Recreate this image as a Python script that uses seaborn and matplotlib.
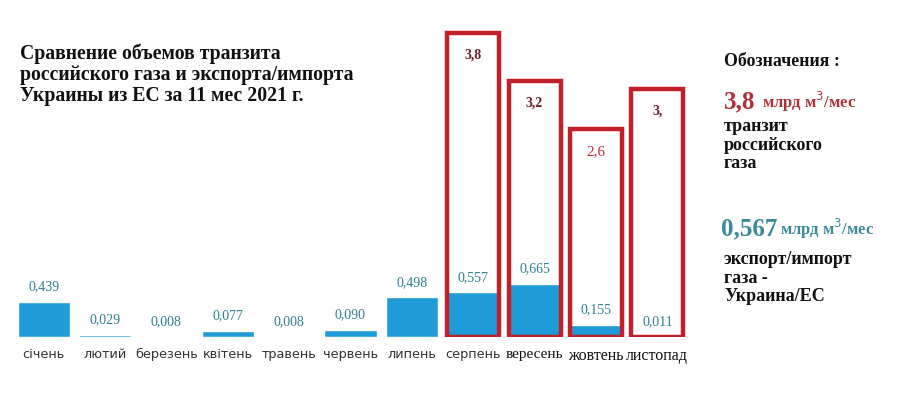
import matplotlib
matplotlib.use("Agg")
import matplotlib.pyplot as plt
import seaborn as sns
import numpy as np
import pandas as pd

months = ["січень", "лютий", "березень", "квітень", "травень", "червень",
          "липень", "серпень", "вересень", "жовтень", "листопад"]
export_import = [0.439, 0.029, 0.008, 0.077, 0.008, 0.090, 0.498, 0.557, 0.665, 0.155, 0.011]
export_labels = ["0,439", "0,029", "0,008", "0,077", "0,008", "0,090", "0,498",
                 "0,557", "0,665", "0,155", "0,011"]
transit = [np.nan] * 7 + [3.8, 3.2, 2.6, 3.1]
transit_labels = [""] * 7 + ["3,8", "3,2", "2,6", "3,"]

sns.set_theme(style="white")
plt.rcParams["font.family"] = ["DejaVu Sans"]

BLUE = "#1f9bd7"
TEAL = "#2f7f8f"
RED = "#c1202b"
SERIF = "Liberation Serif"

fig = plt.figure(figsize=(9.03, 4.0), dpi=100)
ax = fig.add_axes([13 / 903, 63 / 400, 675 / 903, 330 / 400])

df = pd.DataFrame({"month": months, "export": export_import, "transit": transit})
sns.barplot(data=df, x="month", y="export", color=BLUE, width=0.85,
            saturation=1, ax=ax, zorder=2)
sns.barplot(data=df, x="month", y="transit", fill=False, width=0.85,
            edgecolor=RED, linewidth=3.2, ax=ax, zorder=3)

ax.set_ylim(0, 330 / 80)
ax.set_xlim(-0.5, len(months) - 0.5)
ax.set_xlabel("")
ax.set_ylabel("")
ax.set_yticks([])
for s in ax.spines.values():
    s.set_visible(False)
ax.tick_params(axis="x", length=0, pad=8)
ax.set_xticks(range(len(months)))
ax.set_xticklabels(months, fontsize=9.3, color="#333333")
for i, t in enumerate(ax.get_xticklabels()):
    if i >= 8:
        t.set_fontfamily(SERIF)
        t.set_fontsize(11.5 if i > 8 else 11)
        t.set_color("#111111")

# export/import labels
for i, (v, lab) in enumerate(zip(export_import, export_labels)):
    ax.annotate(lab, (i, v), xytext=(0, 6), textcoords="offset points",
                ha="center", va="bottom", fontsize=10, color=TEAL,
                family=SERIF, zorder=5)

# transit labels
tcolors = ["#6a1f2a", "#6a1f2a", "#c03036", "#6a1f2a"]
k = 0
for i, (v, lab) in enumerate(zip(transit, transit_labels)):
    if lab:
        ax.annotate(lab, (i, v), xytext=(0, -16), textcoords="offset points",
                    ha="center", va="center", fontsize=10 if i != 9 else 11,
                    color=tcolors[k], family=SERIF,
                    fontweight="bold" if i != 9 else "normal", zorder=5)
        k += 1

# title
fig.text(20 / 903, 1 - 43 / 400,
         "Сравнение объемов транзита\nроссийского газа и экспорта/импорта\nУкраины из ЕС за 11 мес 2021 г.",
         ha="left", va="top", fontsize=14.2, fontweight="bold", family=SERIF,
         color="#111111", linespacing=1.08)

# legend block
fig.text(724 / 903, 1 - 62 / 400, "Обозначения :", ha="left", va="center",
         fontsize=12.8, fontweight="bold", family=SERIF, color="#111111")
fig.text(724 / 903, 1 - 102 / 400, "3,8", ha="left", va="center",
         fontsize=18, fontweight="bold", family=SERIF, color="#b0303a")
fig.text(762 / 903, 1 - 102 / 400, "млрд м$^3$/мес", ha="left", va="center",
         fontsize=12, fontweight="bold", family=SERIF, color="#b0303a")
fig.text(724 / 903, 1 - 118 / 400, "транзит\nроссийского\nгаза", ha="left", va="top",
         fontsize=13, fontweight="bold", family=SERIF, color="#111111",
         linespacing=1.12)
fig.text(721 / 903, 1 - 229 / 400, "0,567", ha="left", va="center",
         fontsize=18, fontweight="bold", family=SERIF, color="#3a8a98")
fig.text(780 / 903, 1 - 229 / 400, "млрд м$^3$/мес", ha="left", va="center",
         fontsize=12, fontweight="bold", family=SERIF, color="#3a8a98")
fig.text(724 / 903, 1 - 251 / 400, "экспорт/импорт\nгаза -\nУкраина/ЕС", ha="left",
         va="top", fontsize=13, fontweight="bold", family=SERIF, color="#111111",
         linespacing=1.12)

fig.savefig("out.png", dpi=100, facecolor="white")
